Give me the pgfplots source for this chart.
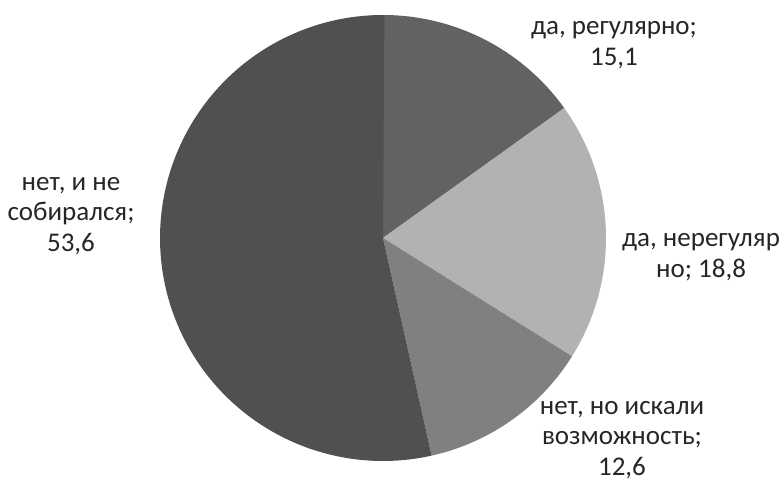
\documentclass[border=0pt]{standalone}
\usepackage{pgfplots}
\pgfplotsset{compat=1.18}
\usepackage{fontspec}
\setmainfont{Carlito}
\definecolor{c1}{HTML}{626262}
\definecolor{c2}{HTML}{B2B2B2}
\definecolor{c3}{HTML}{808080}
\definecolor{c4}{HTML}{505050}
\definecolor{txt}{HTML}{262626}
% shares (percent)
\def\va{15.1}\def\vb{18.8}\def\vc{12.6}\def\vd{53.6}
\def\cx{383}\def\cy{248}\def\R{223}
\tikzset{lbl/.style={font=\fontsize{27}{30.5}\selectfont, text=txt, align=center, inner sep=0pt}}
\begin{document}
\begin{tikzpicture}
\begin{axis}[
  x=1pt, y=1pt,
  xmin=0, xmax=784, ymin=0, ymax=486,
  axis lines=none, clip=false,
]
\addplot[fill=c1, draw=none, domain={90-3.6*\va}:90, samples=80, variable=\t]
  ({\cx+\R*cos(t)},{\cy+\R*sin(t)}) -- (axis cs:\cx,\cy) -- cycle;
\addplot[fill=c2, draw=none, domain={90-3.6*(\va+\vb)}:{90-3.6*\va}, samples=80, variable=\t]
  ({\cx+\R*cos(t)},{\cy+\R*sin(t)}) -- (axis cs:\cx,\cy) -- cycle;
\addplot[fill=c3, draw=none, domain={90-3.6*(\va+\vb+\vc)}:{90-3.6*(\va+\vb)}, samples=80, variable=\t]
  ({\cx+\R*cos(t)},{\cy+\R*sin(t)}) -- (axis cs:\cx,\cy) -- cycle;
\addplot[fill=c4, draw=none, domain={90-3.6*(\va+\vb+\vc+\vd)}:{90-3.6*(\va+\vb+\vc)}, samples=160, variable=\t]
  ({\cx+\R*cos(t)},{\cy+\R*sin(t)}) -- (axis cs:\cx,\cy) -- cycle;
\node[lbl] at (axis cs:614,441) {да, регулярно;\\15,1};
\node[lbl] at (axis cs:701,229) {да, нерегуляр\\но; 18,8};
\node[lbl] at (axis cs:622,46) {нет, но искали\\возможность;\\12,6};
\node[lbl] at (axis cs:71,270) {нет, и не\\собирался;\\53,6};
\coordinate (bl) at (axis cs:0,0);
\coordinate (tr) at (axis cs:784,486);
\end{axis}
\pgfresetboundingbox
\path[use as bounding box] (bl) rectangle (tr);
\end{tikzpicture}
\end{document}
